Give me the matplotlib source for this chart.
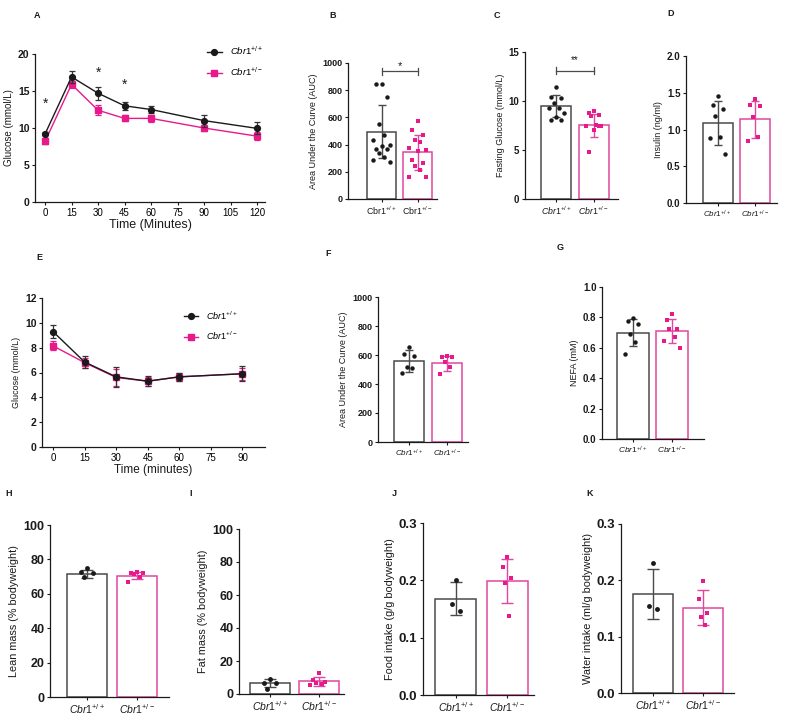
import matplotlib
matplotlib.use('Agg')
import matplotlib.pyplot as plt
from matplotlib.lines import Line2D
import numpy as np

plt.rcParams['font.family'] = ['Liberation Sans', 'DejaVu Sans']
plt.rcParams['mathtext.fontset'] = 'custom'
plt.rcParams['mathtext.rm'] = 'Liberation Sans'
plt.rcParams['mathtext.it'] = 'Liberation Sans:italic'
plt.rcParams['mathtext.bf'] = 'Liberation Sans:bold'

BLACK = '#1a1a1a'
GREY = '#4a4a4a'
PINK = '#e8198b'
PINK_EDGE = '#e0479f'

WT = r'$\mathit{Cbr1}^{+/+}$'
HET = r'$\mathit{Cbr1}^{+/-}$'

# ---- A: glucose tolerance ----
gtt_time = [0, 15, 30, 45, 60, 90, 120]
gtt_wt = [9.2, 16.9, 14.7, 13.0, 12.5, 11.0, 9.95]
gtt_wt_err = [0.2, 0.8, 0.9, 0.5, 0.5, 0.8, 0.8]
gtt_het = [8.2, 15.9, 12.4, 11.3, 11.3, 10.0, 8.9]
gtt_het_err = [0.4, 0.5, 0.7, 0.4, 0.5, 0.4, 0.5]
gtt_star_time = [0, 30, 45]
gtt_star_y = [13.3, 17.5, 15.8]

# ---- E: insulin tolerance ----
itt_time = [0, 15, 30, 45, 60, 90]
itt_wt = [9.3, 6.85, 5.65, 5.3, 5.65, 5.9]
itt_wt_err = [0.55, 0.45, 0.8, 0.4, 0.3, 0.6]
itt_het = [8.15, 6.8, 5.6, 5.3, 5.65, 5.9]
itt_het_err = [0.35, 0.4, 0.7, 0.35, 0.3, 0.5]

# ---- B: AUC (GTT) ----
b_mean = [496, 344]
b_sd = [197, 129]
b_wt = [848, 845, 750, 555, 470, 435, 400, 390, 370, 365, 340, 310, 290, 270]
b_het = [570, 505, 470, 435, 420, 375, 360, 350, 290, 265, 245, 210, 160, 165]

# ---- C: fasting glucose ----
c_mean = [9.48, 7.52]
c_sd = [1.1, 1.2]
c_wt = [11.4, 10.4, 10.3, 9.8, 9.3, 9.3, 8.8, 8.4, 8.1, 8.1]
c_het = [9.0, 8.8, 8.6, 8.5, 7.6, 7.5, 7.4, 7.0, 4.8, 7.5]

# ---- D: insulin ----
d_mean = [1.09, 1.14]
d_sd = [0.30, 0.25]
d_wt = [1.46, 1.34, 1.28, 1.18, 0.90, 0.89, 0.66]
d_het = [1.41, 1.33, 1.32, 1.17, 0.90, 0.85]

# ---- F: AUC (ITT) ----
f_mean = [558, 542]
f_sd = [75, 51]
f_wt = [652, 606, 595, 519, 508, 474]
f_het = [593, 588, 584, 554, 519, 467]

# ---- G: NEFA ----
g_mean = [0.70, 0.71]
g_sd = [0.09, 0.078]
g_wt = [0.797, 0.775, 0.755, 0.694, 0.64, 0.56]
g_het = [0.825, 0.786, 0.723, 0.723, 0.672, 0.646, 0.60]

# ---- H: lean mass ----
h_mean = [71.6, 70.6]
h_sd = [2.2, 2.1]
h_wt = [74.9, 72.9, 72.0, 69.6]
h_het = [72.9, 72.0, 72.0, 71.6, 70.0, 67.1]

# ---- I: fat mass ----
i_mean = [6.5, 7.6]
i_sd = [2.5, 2.9]
i_wt = [9.1, 6.9, 6.5, 3.0]
i_het = [12.9, 8.5, 7.5, 6.5, 6.1, 5.5]

# ---- J: food intake ----
j_mean = [0.168, 0.199]
j_sd = [0.029, 0.039]
j_wt = [0.201, 0.159, 0.146]
j_het = [0.241, 0.223, 0.204, 0.195, 0.137]

# ---- K: water intake ----
k_mean = [0.176, 0.151]
k_sd = [0.045, 0.031]
k_wt = [0.231, 0.154, 0.150]
k_het = [0.198, 0.167, 0.142, 0.135, 0.12]

W, H = 789, 720
fig = plt.figure(figsize=(W / 100, H / 100), dpi=100)


def add_ax(x0, x1, ytop, ybot):
    ax = fig.add_axes([x0 / W, 1 - ybot / H, (x1 - x0) / W, (ybot - ytop) / H])
    for s in ('top', 'right'):
        ax.spines[s].set_visible(False)
    for s in ('left', 'bottom'):
        ax.spines[s].set_color(BLACK)
        ax.spines[s].set_linewidth(0.9)
    ax.tick_params(direction='out', length=2.5, width=0.8, color=BLACK, pad=1.5)
    return ax


def set_yticks(ax, ticks, fmt, fs):
    ax.set_yticks(ticks)
    ax.set_yticklabels([fmt.format(t) for t in ticks], fontsize=fs,
                       fontweight='bold', color=BLACK)


def spread(n, width):
    # fixed side-by-side spread of dots around the bar centre
    pattern = [0, -1, 1, -0.5, 0.5, -1.5, 1.5]
    return np.array([pattern[i % len(pattern)] for i in range(n)]) * width / 1.5


def bar_panel(ax, means, sds, wt_pts, het_pts, ylim, ticks, fmt, ylabel,
              xlim, tfs=6.5, lfs=6.5, xfs=6.3, ms=3.2, cap=3, italic=True,
              jit=0.2):
    x = np.arange(2)
    ax.bar(x, means, width=0.8, facecolor='white',
           edgecolor=[GREY, PINK_EDGE], linewidth=1.1, zorder=1)
    for xi, pts, col, mk in ((0, wt_pts, BLACK, 'o'), (1, het_pts, PINK, 's')):
        ax.scatter(xi + spread(len(pts), jit), pts, s=ms ** 2, marker=mk,
                   color=col, zorder=3, linewidths=0)
    ax.errorbar(x[0], means[0], yerr=sds[0], fmt='none', ecolor=GREY,
                elinewidth=1.0, capsize=cap, capthick=1.0, zorder=2)
    ax.errorbar(x[1], means[1], yerr=sds[1], fmt='none', ecolor=PINK_EDGE,
                elinewidth=1.0, capsize=cap, capthick=1.0, zorder=2)
    ax.set_xlim(*xlim)
    ax.set_ylim(*ylim)
    set_yticks(ax, ticks, fmt, tfs)
    ax.set_xticks(x)
    if italic:
        labs = [WT, HET]
    else:
        labs = [r'$\mathrm{Cbr1}^{+/+}$', r'$\mathrm{Cbr1}^{+/-}$']
    ax.set_xticklabels(labs, fontsize=xfs, color=BLACK)
    ax.set_ylabel(ylabel, fontsize=lfs, color=BLACK, labelpad=3)


def line_panel(ax, t, wt, wt_e, het, het_e):
    ax.errorbar(t, het, yerr=het_e, color=PINK, marker='s', ms=4.2,
                lw=1.0, elinewidth=0.9, capsize=2, capthick=0.9,
                ecolor=PINK, zorder=2)
    ax.errorbar(t, wt, yerr=wt_e, color=BLACK, marker='o', ms=4.2,
                lw=1.0, elinewidth=0.9, capsize=2, capthick=0.9,
                ecolor='#333333', zorder=3)


def legend(ax, anchor, fs):
    handles = [Line2D([], [], color=BLACK, marker='o', ms=4.2, lw=1.0),
               Line2D([], [], color=PINK, marker='s', ms=4.2, lw=1.0)]
    ax.legend(handles, [WT, HET], loc='upper left', bbox_to_anchor=anchor,
              frameon=False, fontsize=fs, handlelength=1.6, labelspacing=0.9,
              handletextpad=0.9)


# A
axA = add_ax(35, 265, 54, 202)
line_panel(axA, gtt_time, gtt_wt, gtt_wt_err, gtt_het, gtt_het_err)
for tx, ty in zip(gtt_star_time, gtt_star_y):
    axA.text(tx, ty, '*', ha='center', va='center', fontsize=10, color=BLACK)
axA.set_xlim(-5.7, 124.5)
axA.set_ylim(0, 20)
set_yticks(axA, [0, 5, 10, 15, 20], '{:g}', 7.5)
axA.set_xticks([0, 15, 30, 45, 60, 75, 90, 105, 120])
axA.tick_params(axis='x', labelsize=7)
axA.set_xlabel('Time (Minutes)', fontsize=9, color=BLACK, labelpad=1)
axA.set_ylabel('Glucose (mmol/L)', fontsize=7, color=BLACK, labelpad=3)
legend(axA, (0.71, 1.12), 6.8)

# B
axB = add_ax(348, 437, 63, 199)
bar_panel(axB, b_mean, b_sd, b_wt, b_het, (0, 1000), [0, 200, 400, 600, 800, 1000],
          '{:g}', 'Area Under the Curve (AUC)', (-0.93, 1.54), italic=False,
          jit=0.24)
axB.plot([0, 1], [939, 939], color=GREY, lw=0.9)
axB.plot([0, 0], [915, 963], color=GREY, lw=0.9)
axB.plot([1, 1], [915, 963], color=GREY, lw=0.9)
axB.text(0.5, 975, '*', ha='center', va='center', fontsize=8, color=BLACK)

# C
axC = add_ax(525, 618, 52, 199)
bar_panel(axC, c_mean, c_sd, c_wt, c_het, (0, 15), [0, 5, 10, 15], '{:g}',
          'Fasting Glucose (mmol/L)', (-0.83, 1.65), tfs=7)
axC.plot([0, 1], [13.1, 13.1], color=GREY, lw=0.9)
axC.plot([0, 0], [12.75, 13.45], color=GREY, lw=0.9)
axC.plot([1, 1], [12.75, 13.45], color=GREY, lw=0.9)
axC.text(0.5, 14.2, '**', ha='center', va='center', fontsize=7, color=BLACK)

# D
axD = add_ax(686, 777, 56, 203)
bar_panel(axD, d_mean, d_sd, d_wt, d_het, (0, 2.0), [0, 0.5, 1.0, 1.5, 2.0],
          '{:.1f}', 'Insulin (ng/ml)', (-0.84, 1.58), xfs=5.8, tfs=7)

# E
axE = add_ax(42, 265, 298, 447)
line_panel(axE, itt_time, itt_wt, itt_wt_err, itt_het, itt_het_err)
axE.set_xlim(-5.2, 100.7)
axE.set_ylim(0, 12)
set_yticks(axE, [0, 2, 4, 6, 8, 10, 12], '{:g}', 7.5)
axE.set_xticks([0, 15, 30, 45, 60, 75, 90])
axE.tick_params(axis='x', labelsize=7)
axE.set_xlabel('Time (minutes)', fontsize=8.5, color=BLACK, labelpad=1)
axE.set_ylabel('Glucose (mmol/L)', fontsize=6.5, color=BLACK, labelpad=3)
legend(axE, (0.6, 0.98), 6.5)

# F
axF = add_ax(378, 468, 297, 442)
bar_panel(axF, f_mean, f_sd, f_wt, f_het, (0, 1000), [0, 200, 400, 600, 800, 1000],
          '{:g}', 'Area Under the Curve (AUC)', (-0.82, 1.55), xfs=5.8)

# G
axG = add_ax(602, 704, 287, 439)
bar_panel(axG, g_mean, g_sd, g_wt, g_het, (0, 1.0), [0, 0.2, 0.4, 0.6, 0.8, 1.0],
          '{:.1f}', 'NEFA (mM)', (-0.79, 1.82), xfs=6, tfs=7)

# H
axH = add_ax(50, 169, 525, 697)
bar_panel(axH, h_mean, h_sd, h_wt, h_het, (0, 100), [0, 20, 40, 60, 80, 100],
          '{:g}', 'Lean mass (% bodyweight)', (-0.73, 1.65),
          tfs=9, lfs=7.8, xfs=7.5, ms=3.5, cap=4, jit=0.18)

# I
axI = add_ax(239, 344, 529, 694)
bar_panel(axI, i_mean, i_sd, i_wt, i_het, (0, 100), [0, 20, 40, 60, 80, 100],
          '{:g}', 'Fat mass (% bodyweight)', (-0.63, 1.51),
          tfs=9, lfs=7.8, xfs=7.5, ms=3.5, cap=4, jit=0.18)

# J
axJ = add_ax(423, 534, 523, 695)
bar_panel(axJ, j_mean, j_sd, j_wt, j_het, (0, 0.3), [0, 0.1, 0.2, 0.3],
          '{:.1f}', 'Food intake (g/g bodyweight)', (-0.64, 1.52),
          tfs=9.5, lfs=7.8, xfs=7.5, ms=3.5, cap=4, jit=0.12)

# K
axK = add_ax(621, 734, 524, 693)
bar_panel(axK, k_mean, k_sd, k_wt, k_het, (0, 0.3), [0, 0.1, 0.2, 0.3],
          '{:.1f}', 'Water intake (ml/g bodyweight)', (-0.63, 1.63),
          tfs=9.5, lfs=7.8, xfs=7.5, ms=3.5, cap=4, jit=0.12)

# panel letters
letters = [('A', 37, 15), ('B', 333, 15), ('C', 497, 15), ('D', 671, 13),
           ('E', 39, 257), ('F', 328, 253), ('G', 560, 247),
           ('H', 9, 494), ('I', 191, 494), ('J', 394, 494), ('K', 590, 494)]
for lab, px, py in letters:
    fig.text(px / W, 1 - py / H, lab, fontsize=6.5, fontweight='bold',
             ha='center', va='center', color=BLACK)

fig.savefig('out.png', dpi=100, facecolor='white')
